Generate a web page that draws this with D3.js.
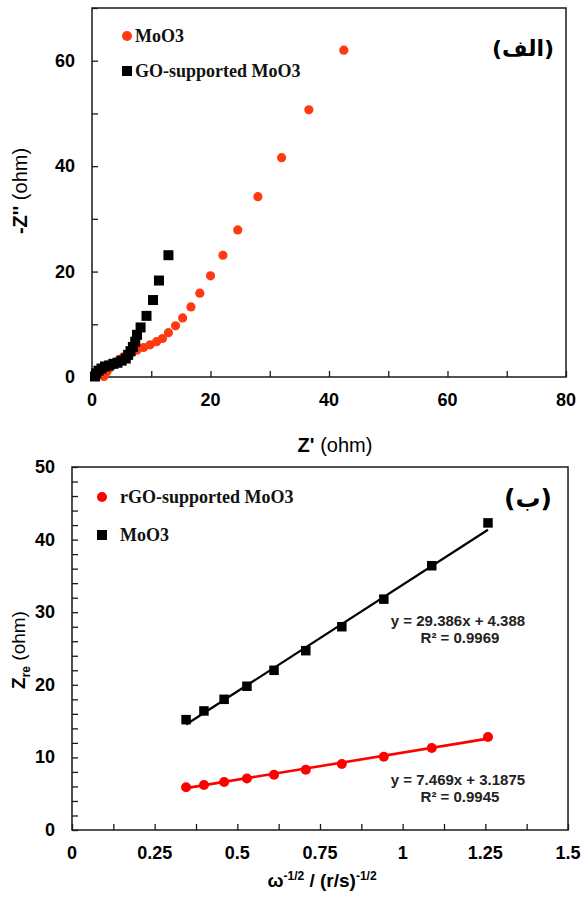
<!DOCTYPE html>
<html>
<head>
<meta charset="utf-8">
<script src="https://cdn.jsdelivr.net/npm/d3@7"></script>
<style>
  html, body { margin: 0; padding: 0; background: #fff; }
  svg { display: block; }
</style>
</head>
<body>
<svg id="fig" width="581" height="903"></svg>
<script>
// ---------- Panel (الف): Nyquist plot ----------
const moo3Real = [42.5, 36.6, 32.0, 28.0, 24.6, 22.1, 20.0, 18.2, 16.7, 15.3, 14.1, 12.9, 11.9, 10.9, 9.8, 8.7, 7.6, 6.8, 6.0, 5.3, 4.6, 4.0, 3.4, 2.9, 2.5, 2.2, 2.0];
const moo3Imag = [62.0, 50.7, 41.6, 34.2, 27.9, 23.1, 19.2, 15.9, 13.3, 11.2, 9.7, 8.4, 7.3, 6.7, 6.1, 5.6, 5.1, 4.7, 4.3, 3.8, 3.3, 2.8, 2.2, 1.6, 1.0, 0.5, 0.1];
const goReal = [12.9, 11.3, 10.3, 9.2, 8.2, 7.6, 7.3, 6.9, 6.5, 6.1, 5.7, 5.0, 4.3, 3.6, 2.9, 2.2, 1.6, 1.1, 0.7, 0.5];
const goImag = [23.1, 18.3, 14.6, 11.6, 9.4, 8.0, 6.7, 5.7, 4.9, 4.2, 3.5, 3.1, 2.7, 2.5, 2.2, 2.0, 1.6, 1.2, 0.7, 0.1];
const nyquistXTicks = [0, 20, 40, 60, 80];
const nyquistYTicks = [0, 20, 40, 60];
const nyquistSeries = ["MoO3", "GO-supported MoO3"];

// ---------- Panel (ب): Warburg plot ----------
const invSqrtOmega = [0.345, 0.399, 0.46, 0.529, 0.611, 0.707, 0.816, 0.943, 1.088, 1.258];
const rgoZre = [5.9, 6.2, 6.6, 7.1, 7.6, 8.3, 9.1, 10.1, 11.3, 12.8];
const moo3Zre = [15.2, 16.4, 18.0, 19.8, 22.0, 24.7, 28.0, 31.8, 36.4, 42.3];
const warburgSeries = ["rGO-supported MoO3", "MoO3"];
const fitSlopes = [7.469, 29.386];
const fitIntercepts = [3.1875, 4.388];
const fitR2 = ["0.9945", "0.9969"];
const warburgXTicks = [0, 0.25, 0.5, 0.75, 1, 1.25, 1.5];
const warburgYTicks = [0, 10, 20, 30, 40, 50];

const svg = d3.select("#fig");
const SANS = "'Liberation Sans', Arial, sans-serif";
const SERIF = "'Liberation Serif', 'Times New Roman', serif";
const ORANGE = "#ff3a12";
const RED = "#ff0000";

// Draws a framed plot area with inward ticks and labelled major ticks.
function frame(g, x, y, xMinor, yMinor, xLabels, yLabels, xFmt) {
  const [x0, x1] = x.range();
  const [y0, y1] = y.range();
  g.append("rect")
    .attr("x", x0).attr("y", y1).attr("width", x1 - x0).attr("height", y0 - y1)
    .attr("fill", "none").attr("stroke", "#1a1a1a").attr("stroke-width", 1.5);
  const xAxis = d3.axisBottom(x).tickValues(xMinor).tickSizeInner(-6).tickSizeOuter(0).tickFormat("");
  const yAxis = d3.axisLeft(y).tickValues(yMinor).tickSizeInner(-6).tickSizeOuter(0).tickFormat("");
  const gx = g.append("g").attr("transform", `translate(0,${y0})`).call(xAxis);
  const gy = g.append("g").attr("transform", `translate(${x0},0)`).call(yAxis);
  [gx, gy].forEach(a => {
    a.select(".domain").remove();
    a.selectAll("line").attr("stroke", "#1a1a1a").attr("stroke-width", 1.3);
  });
  g.append("g").selectAll("text").data(xLabels).join("text")
    .attr("x", d => x(d)).attr("y", y0 + 29)
    .attr("text-anchor", "middle")
    .style("font", `bold 18px ${SANS}`)
    .text(xFmt);
  g.append("g").selectAll("text").data(yLabels).join("text")
    .attr("x", x0 - 17).attr("y", d => y(d) + 6)
    .attr("text-anchor", "end")
    .style("font", `bold 18px ${SANS}`)
    .text(d => d);
}

// ===== Panel (الف) =====
{
  const x = d3.scaleLinear().domain([0, 80]).range([92, 566]);
  const y = d3.scaleLinear().domain([0, 70]).range([377, 8]);
  const g = svg.append("g");
  frame(g, x, y, d3.range(0, 81, 10), d3.range(0, 71, 10), nyquistXTicks, nyquistYTicks, d => d);

  g.append("g").selectAll("circle").data(d3.zip(moo3Real, moo3Imag)).join("circle")
    .attr("cx", d => x(d[0])).attr("cy", d => y(d[1])).attr("r", 4.6)
    .attr("fill", ORANGE);
  const s = 10;
  g.append("g").selectAll("rect").data(d3.zip(goReal, goImag)).join("rect")
    .attr("x", d => x(d[0]) - s / 2).attr("y", d => y(d[1]) - s / 2)
    .attr("width", s).attr("height", s).attr("fill", "#000");

  // legend
  g.append("circle").attr("cx", 127).attr("cy", 36).attr("r", 5).attr("fill", ORANGE);
  g.append("rect").attr("x", 122).attr("y", 66).attr("width", 10).attr("height", 10).attr("fill", "#000");
  g.selectAll("text.leg").data(nyquistSeries).join("text").attr("class", "leg")
    .attr("x", 135).attr("y", (d, i) => 42 + i * 35)
    .style("font", `bold 18px ${SERIF}`).attr("fill", "#111")
    .text(d => d);

  g.append("text").attr("x", 523).attr("y", 56)
    .attr("text-anchor", "middle").attr("direction", "rtl")
    .style("font", `bold 22px 'DejaVu Sans', sans-serif`)
    .text("(الف)");

  // axis titles
  const xt = g.append("text").attr("x", 335).attr("y", 452).attr("text-anchor", "middle")
    .style("font-family", SANS).style("font-size", "20px");
  xt.append("tspan").attr("font-weight", "bold").text("Z' ");
  xt.append("tspan").text("(ohm)");

  const yt = g.append("text").attr("transform", "translate(27,191) rotate(-90)")
    .attr("text-anchor", "middle").style("font-family", SANS).style("font-size", "20px");
  yt.append("tspan").attr("font-weight", "bold").text("-Z'' ");
  yt.append("tspan").text("(ohm)");
}

// ===== Panel (ب) =====
{
  const x = d3.scaleLinear().domain([0, 1.5]).range([72, 568]);
  const y = d3.scaleLinear().domain([0, 50]).range([830, 467]);
  const g = svg.append("g");
  frame(g, x, y, d3.range(0, 1.5001, 0.125), d3.range(0, 50.001, 2), warburgXTicks, warburgYTicks, d => d3.format("")(d));

  const xMin = d3.min(invSqrtOmega), xMax = d3.max(invSqrtOmega);
  const colors = [RED, "#000"];
  // linear fits from the stated equations
  fitSlopes.forEach((m, i) => {
    g.append("line")
      .attr("x1", x(xMin)).attr("y1", y(m * xMin + fitIntercepts[i]))
      .attr("x2", x(xMax)).attr("y2", y(m * xMax + fitIntercepts[i]))
      .attr("stroke", colors[i]).attr("stroke-width", i === 0 ? 2.6 : 2.2);
  });

  g.append("g").selectAll("circle").data(d3.zip(invSqrtOmega, rgoZre)).join("circle")
    .attr("cx", d => x(d[0])).attr("cy", d => y(d[1])).attr("r", 5)
    .attr("fill", RED);
  const s = 9.5;
  g.append("g").selectAll("rect").data(d3.zip(invSqrtOmega, moo3Zre)).join("rect")
    .attr("x", d => x(d[0]) - s / 2).attr("y", d => y(d[1]) - s / 2)
    .attr("width", s).attr("height", s).attr("fill", "#000");

  // equations
  const eq = [[458, 785, 802], [458, 626, 643]];
  fitSlopes.forEach((m, i) => {
    g.append("text").attr("x", eq[i][0]).attr("y", eq[i][1]).attr("text-anchor", "middle")
      .style("font", `bold 15px ${SANS}`).attr("fill", "#222")
      .text(`y = ${m}x + ${fitIntercepts[i]}`);
    g.append("text").attr("x", eq[i][0] + 2).attr("y", eq[i][2]).attr("text-anchor", "middle")
      .style("font", `bold 15px ${SANS}`).attr("fill", "#222")
      .text(`R² = ${fitR2[i]}`);
  });

  // legend
  g.append("circle").attr("cx", 102).attr("cy", 497).attr("r", 5).attr("fill", RED);
  g.append("rect").attr("x", 97).attr("y", 530).attr("width", 10).attr("height", 10).attr("fill", "#000");
  g.selectAll("text.leg").data(warburgSeries).join("text").attr("class", "leg")
    .attr("x", 120).attr("y", (d, i) => 503 + i * 38)
    .style("font", `bold 18px ${SERIF}`).attr("fill", "#111")
    .text(d => d);

  g.append("text").attr("x", 528).attr("y", 507)
    .attr("text-anchor", "middle").attr("direction", "rtl")
    .style("font", `bold 25px 'DejaVu Sans', sans-serif`)
    .text("(ب)");

  // axis titles
  const xt = g.append("text").attr("x", 322).attr("y", 887).attr("text-anchor", "middle")
    .style("font-family", SANS).style("font-size", "19px").attr("font-weight", "bold");
  xt.append("tspan").text("ω");
  xt.append("tspan").attr("dy", -7).style("font-size", "12px").text("-1/2");
  xt.append("tspan").attr("dy", 7).text(" / (r/s)");
  xt.append("tspan").attr("dy", -7).style("font-size", "12px").text("-1/2");

  const yt = g.append("text").attr("transform", "translate(25,650) rotate(-90)")
    .attr("text-anchor", "middle").style("font-family", SANS).style("font-size", "19px");
  yt.append("tspan").attr("font-weight", "bold").text("Z");
  yt.append("tspan").attr("dy", 5).style("font-size", "12px").attr("font-weight", "bold").text("re");
  yt.append("tspan").attr("dy", -5).text(" (ohm)");
}
</script>
</body>
</html>
